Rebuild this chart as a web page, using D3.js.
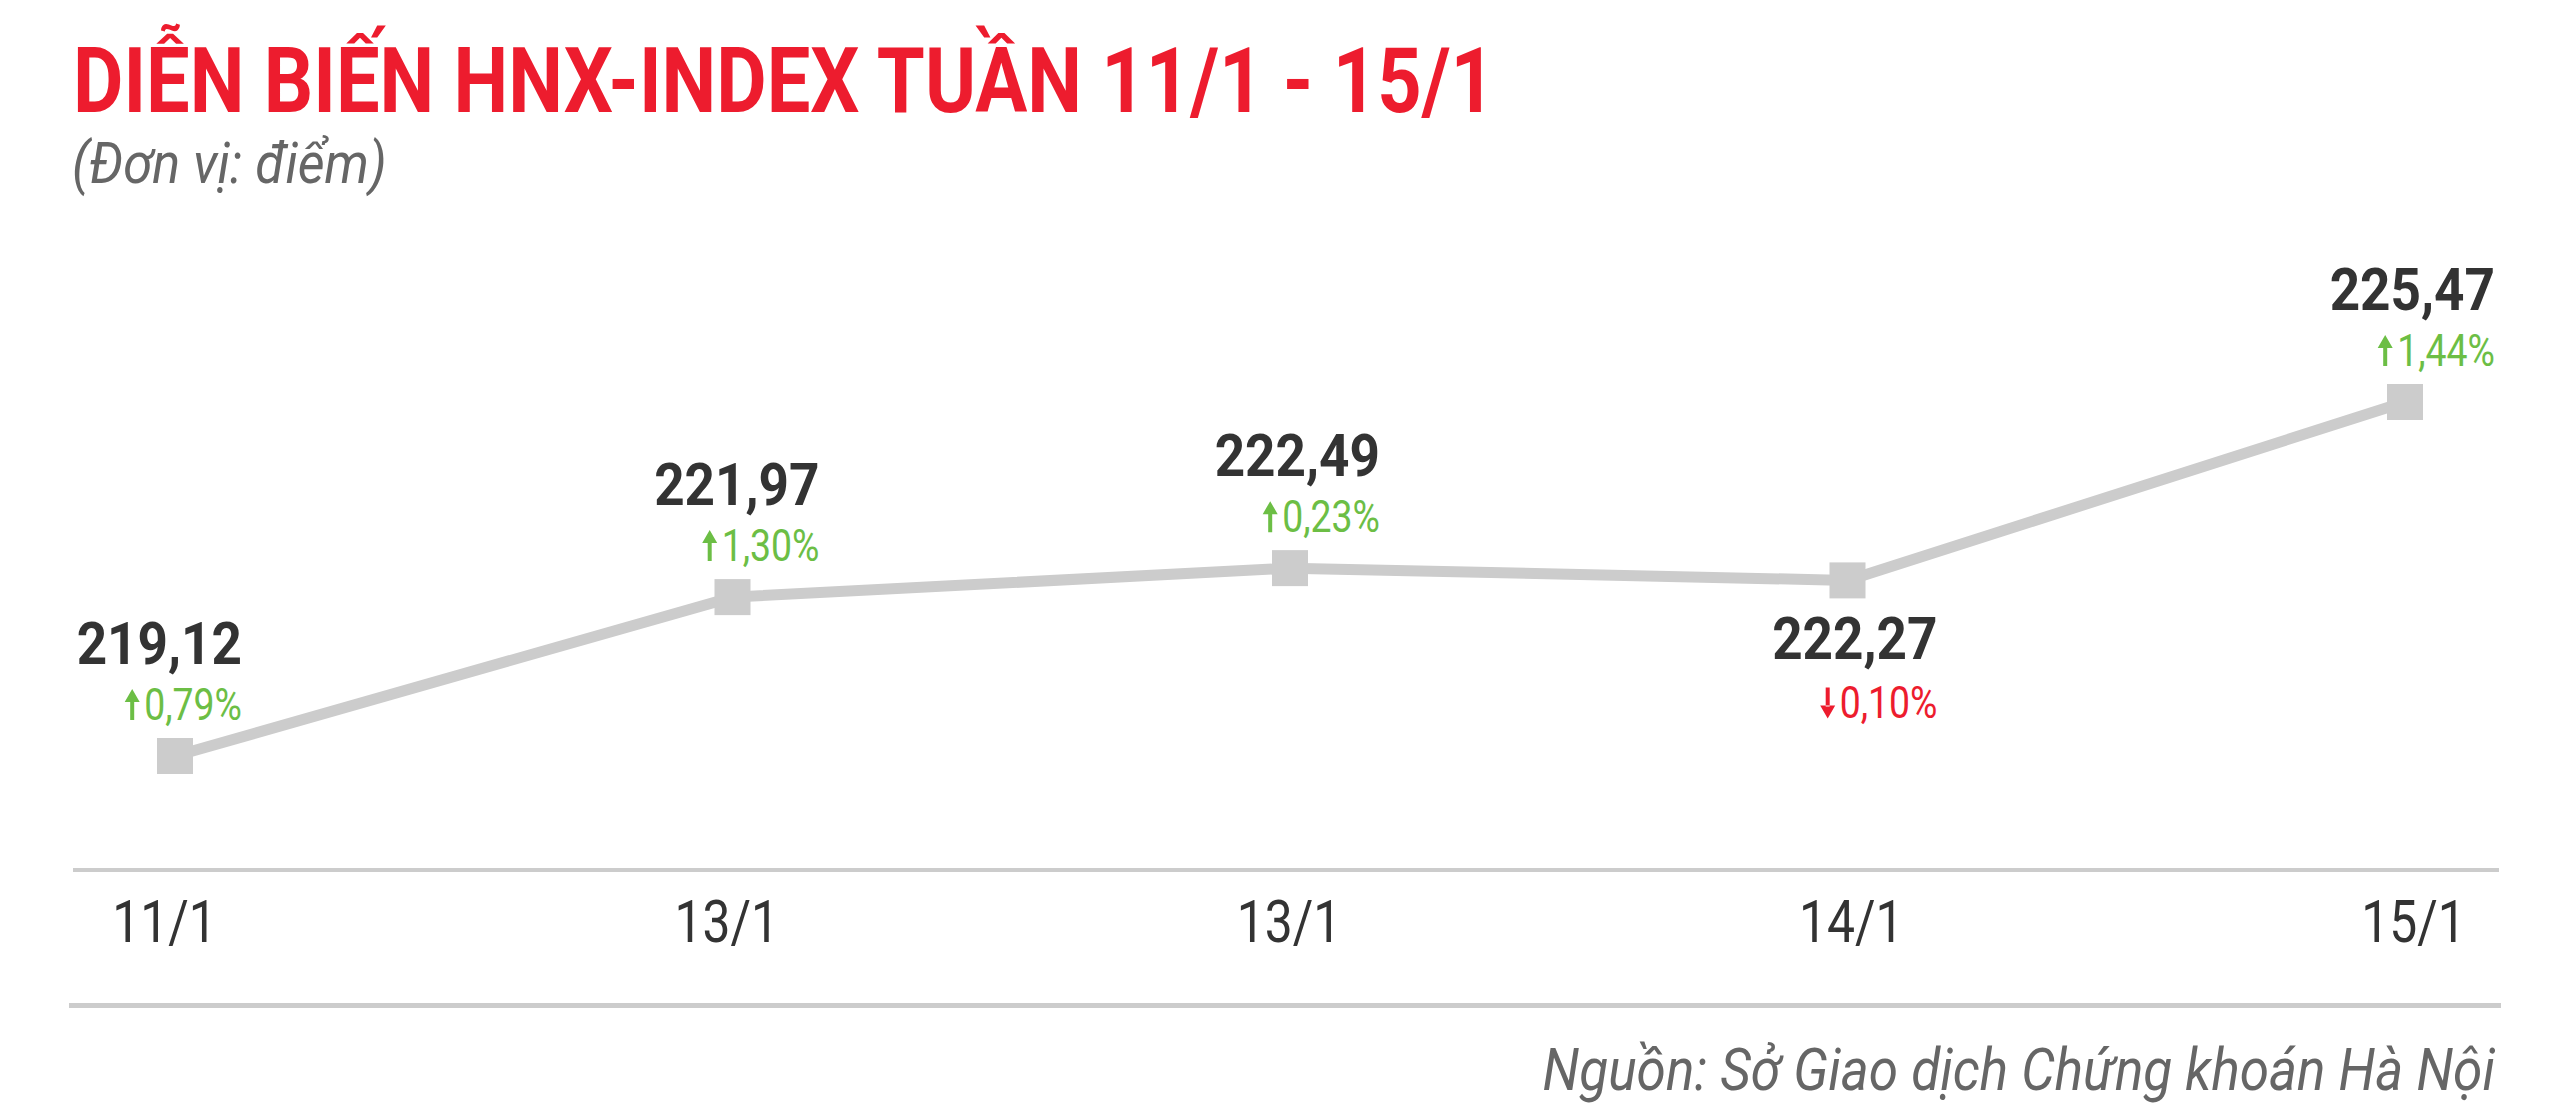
<!DOCTYPE html>
<html>
<head>
<meta charset="utf-8">
<script src="https://cdn.jsdelivr.net/npm/d3@7"></script>
<style>
  html, body { margin: 0; padding: 0; background: #ffffff; }
  svg { display: block; }
</style>
</head>
<body>
<svg id="chart" width="2560" height="1119"></svg>
<script>
// ---- data ----
const categories = ["11/1", "13/1", "13/1", "14/1", "15/1"];
const values = [219.12, 221.97, 222.49, 222.27, 225.47];
const changes = [0.79, 1.30, 0.23, -0.10, 1.44];
const titleText = "DIỄN BIẾN HNX-INDEX TUẦN 11/1 - 15/1";
const subtitleText = "(Đơn vị: điểm)";
const sourceText = "Nguồn: Sở Giao dịch Chứng khoán Hà Nội";

// ---- layout (not data) ----
const labelOffset = [67, 87, 90, 90, 90];

const vn = d3.formatLocale({decimal: ",", thousands: ".", grouping: [3], currency: ["", ""]});
const fmtVal = vn.format(".2f");
const fmtPct = v => vn.format(".2f")(Math.abs(v)) + "%";

const svg = d3.select("#chart");
const FONT = "Roboto, 'Noto Sans', sans-serif";
const RED = "#ED1C2E", GREEN = "#6CBE45", DARK = "#333333", GREY = "#CCCCCC", MUTED = "#666666";

// scales
const idx = categories.map((d, i) => i);
const x = d3.scalePoint().domain(idx).range([175, 2405]);
const xLab = d3.scalePoint().domain(idx).range([164, 2413]);
const y = d3.scaleLinear().domain([219.12, 225.47]).range([756, 402]);

// title
svg.append("text")
  .attr("x", 73).attr("y", 112)
  .attr("font-family", FONT).attr("font-weight", 700).attr("font-size", 90)
  .attr("fill", RED)
  .attr("textLength", 1422).attr("lengthAdjust", "spacingAndGlyphs")
  .text(titleText);

svg.append("text")
  .attr("transform", "translate(72,183) scale(0.9,1)")
  .attr("font-family", FONT).attr("font-style", "italic").attr("font-size", 58)
  .attr("fill", MUTED)
  .text(subtitleText);

// baseline rules
svg.append("line").attr("x1", 73).attr("x2", 2499).attr("y1", 870).attr("y2", 870)
  .attr("stroke", GREY).attr("stroke-width", 4);
svg.append("line").attr("x1", 69).attr("x2", 2501).attr("y1", 1005.5).attr("y2", 1005.5)
  .attr("stroke", GREY).attr("stroke-width", 5);

// x axis labels
const axis = d3.axisBottom(xLab).tickSize(0).tickPadding(0).tickFormat(i => categories[i]);
const gAxis = svg.append("g").attr("transform", "translate(0,942)").call(axis);
gAxis.select(".domain").remove();
gAxis.selectAll("text")
  .attr("y", 0).attr("dy", null)
  .attr("font-family", FONT).attr("font-size", 60).attr("fill", DARK)
  .attr("transform", "scale(0.83,1)");

// line
const line = d3.line().x((d, i) => x(i)).y(d => y(d));
svg.append("path").datum(values)
  .attr("d", line)
  .attr("fill", "none").attr("stroke", GREY).attr("stroke-width", 11)
  .attr("stroke-linejoin", "miter");

// markers
const S = 36;
svg.selectAll("rect.mk").data(values).enter().append("rect")
  .attr("class", "mk")
  .attr("x", (d, i) => x(i) - S / 2).attr("y", d => y(d) - S / 2)
  .attr("width", S).attr("height", S).attr("fill", GREY);

// labels
values.forEach((v, i) => {
  const below = i > 0 && v < values[i - 1];
  const cx = x(i), cy = y(v);
  const ax = cx + labelOffset[i];
  const vy = below ? cy + 79 : cy - 92;
  const py = below ? cy + 138 : cy - 36;
  svg.append("text")
    .attr("transform", `translate(${ax},${vy}) scale(0.9,1)`)
    .attr("text-anchor", "end")
    .attr("font-family", FONT).attr("font-weight", 700).attr("font-size", 59)
    .attr("fill", DARK)
    .text(fmtVal(v));
  const up = changes[i] >= 0;
  const col = up ? GREEN : RED;
  const s = 0.85;
  const t = svg.append("text")
    .attr("transform", `translate(${ax},${py}) scale(${s},1)`)
    .attr("text-anchor", "end")
    .attr("font-family", FONT).attr("font-size", 44)
    .attr("fill", col)
    .text(fmtPct(changes[i]));
  const w = t.node().getComputedTextLength() * s;
  const arX = ax - w - 12; // arrow stem centre
  const h = 31, hw = 7.5, hh = 13, top = py - h;
  const p = d3.path();
  if (up) {
    p.moveTo(arX, top); p.lineTo(arX + hw, top + hh); p.lineTo(arX - hw, top + hh); p.closePath();
    p.rect(arX - 2, top + hh - 1, 4, h - hh + 1);
  } else {
    p.moveTo(arX, py); p.lineTo(arX + hw, py - hh); p.lineTo(arX - hw, py - hh); p.closePath();
    p.rect(arX - 2, top, 4, h - hh + 1);
  }
  svg.append("path").attr("d", p.toString()).attr("fill", col);
});

// source
svg.append("text")
  .attr("transform", "translate(2495,1090) scale(0.9,1)")
  .attr("text-anchor", "end")
  .attr("font-family", FONT).attr("font-style", "italic").attr("font-size", 59)
  .attr("fill", MUTED)
  .text(sourceText);
</script>
</body>
</html>
